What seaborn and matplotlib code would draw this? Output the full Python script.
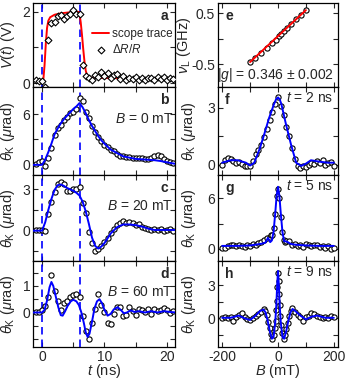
import numpy as np
import matplotlib
matplotlib.use("Agg")
import matplotlib.pyplot as plt
import seaborn as sns

# --- DATA
# panel a : scope trace and dR/R
t_pts = np.arange(-1.0, 21.01, 0.5)
dRR = [0.08, 0.07, 0.06, -0.10, 1.22, 1.68, 1.72, 1.88, 1.92, 1.80, 1.88, 1.95, 2.05, 1.93, 1.95,
       0.50, 0.20, 0.15, 0.10, 0.22, 0.18, 0.30, 0.20, 0.28, 0.15, 0.22, 0.25, 0.12, 0.20, 0.10,
       0.15, 0.12, 0.18, 0.10, 0.14, 0.08, 0.13, 0.15, 0.10, 0.17, 0.12, 0.16, 0.10, 0.14, 0.12]
t_scope = [-1.5, 0.2, 0.4, 0.6, 0.8, 1.0, 1.3, 2.0, 3.0, 4.5, 5.9, 6.0, 6.2, 6.4, 6.6, 6.8,
           7.0, 7.2, 7.5, 8.0, 10.0, 21.5]
v_scope = [0.08, 0.08, 0.5, 1.1, 1.55, 1.75, 1.85, 1.92, 1.96, 1.99, 2.0, 1.95, 1.7, 1.35,
           0.95, 0.6, 0.35, 0.22, 0.17, 0.15, 0.14, 0.14]

# panels b-d : Kerr rotation vs time
kerr_b = [0.1, 0.3, 0.4, -0.1, 0.8, 2.0, 3.5, 4.3, 4.7, 5.3, 5.7, 6.1, 6.3, 6.6, 7.9, 7.5,
          6.3, 5.5, 4.6, 3.9, 3.3, 2.8, 2.4, 2.1, 1.8, 1.6, 1.3, 1.1, 1.0, 0.9, 0.9, 0.8,
          0.8, 0.8, 0.8, 0.7, 0.7, 0.8, 1.0, 1.2, 1.0, 0.7, 0.5, 0.3, 0.2]
kerr_c = [0.05, 0.05, 0.05, 0.0, 1.2, 2.1, 2.8, 3.4, 3.5, 3.4, 2.9, 2.9, 3.0, 3.0, 3.15,
          2.0, 1.3, -0.1, -0.9, -1.45, -1.3, -1.1, -0.8, -0.5, -0.2, 0.15, 0.4, 0.55, 0.7,
          0.55, 0.6, 0.55, 0.4, 0.45, 0.3, 0.2, 0.15, 0.05, 0.1, 0.05, 0.15, 0.0, 0.05, 0.1, 0.0]
kerr_d = [0.0, 0.02, 0.1, 0.25, 0.6, 1.41, 0.8, 0.45, 0.1, 0.35, 0.45, 0.6, 0.65, 0.7, 0.6,
          -0.15, -0.7, -1.0, -0.4, 0.15, 0.7, 0.3, 0.03, -0.4, -0.45, -0.05, 0.22, 0.22, -0.15,
          -0.1, 0.2, 0.05, -0.1, 0.15, 0.1, 0.0, 0.12, -0.05, 0.15, 0.05, 0.1, 0.18, 0.08, -0.02, 0.05]

t_fit_b = [-1.5, 0.0, 0.5, 1.0, 1.5, 2.0, 2.5, 3.0, 3.5, 4.0, 4.5, 5.0, 5.5, 6.0, 6.5, 7.0,
           7.5, 8.0, 8.5, 9.0, 9.5, 10.0, 11.0, 12.0, 13.0, 14.0, 15.0, 16.0, 17.0, 18.0,
           19.0, 20.0, 21.5]
fit_b = [0.0, 0.0, 0.6, 1.5, 2.5, 3.6, 4.3, 4.9, 5.4, 5.8, 6.2, 6.6, 6.9, 7.3, 6.8, 6.1,
         5.3, 4.6, 4.0, 3.4, 2.9, 2.5, 1.8, 1.4, 1.0, 0.85, 0.7, 0.65, 0.6, 0.55, 0.45, 0.3, 0.1]
t_fit_c = [-1.5, 0.0, 0.5, 1.0, 1.5, 2.0, 2.5, 3.0, 3.5, 4.0, 4.5, 5.0, 5.5, 6.0, 6.5, 7.0,
           7.5, 8.0, 8.5, 9.0, 9.5, 10.0, 10.5, 11.0, 12.0, 13.0, 14.0, 15.0, 16.0, 17.0,
           18.0, 19.0, 20.0, 21.5]
fit_c = [0.0, 0.0, 0.6, 1.5, 2.3, 2.95, 3.3, 3.35, 3.25, 3.1, 3.0, 2.9, 2.75, 2.55, 2.1, 1.4,
         0.5, -0.5, -1.1, -1.3, -1.15, -0.9, -0.55, -0.2, 0.25, 0.45, 0.45, 0.4, 0.3, 0.15,
         0.05, 0.05, 0.05, 0.05]
t_fit_d = [-1.5, 0.0, 0.4, 0.8, 1.2, 1.5, 1.8, 2.2, 2.6, 3.0, 3.3, 3.7, 4.1, 4.6, 5.0, 5.5,
           5.9, 6.3, 6.7, 7.0, 7.3, 7.6, 8.0, 8.4, 8.8, 9.2, 9.6, 10.0, 10.5, 11.0, 11.5,
           12.1, 12.6, 13.1, 13.6, 14.2, 14.8, 15.5, 16.5, 17.5, 18.5, 19.5, 20.5, 21.5]
fit_d = [0.0, 0.0, 0.1, 0.45, 0.95, 1.15, 1.0, 0.6, 0.2, -0.1, -0.12, 0.05, 0.25, 0.42, 0.48,
         0.42, 0.28, 0.0, -0.4, -0.75, -0.92, -0.8, -0.35, 0.15, 0.42, 0.5, 0.35, 0.1, -0.12,
         -0.05, 0.12, 0.2, 0.1, -0.03, 0.0, 0.08, 0.02, 0.05, 0.0, 0.05, 0.0, 0.05, 0.02, 0.0]

# panel e : Larmor frequency vs field
B_e = [-100, -83, -62, -40, -20, -8, 2, 12, 22, 32, 48, 66, 84, 100]
nu_e = [-0.45, -0.38, -0.29, -0.19, -0.09, -0.02, 0.05, 0.10, 0.15, 0.20, 0.29, 0.38, 0.47, 0.56]
B_e_fit = [-100, 100]
nu_e_fit = [-0.46, 0.56]

# panels f-h : Kerr rotation vs field
B_f = np.arange(-200, 201, 10)
kerr_f = [0.0, 0.25, 0.35, 0.3, 0.2, 0.1, 0.15, 0.05, -0.05, -0.1, -0.1, 0.2, 0.55, 0.75,
          1.05, 1.45, 1.9, 2.35, 2.8, 3.2, 3.55, 3.1, 2.6, 2.0, 1.5, 0.9, 0.3, -0.05, -0.2,
          -0.1, -0.15, 0.0, 0.1, 0.05, 0.2, 0.1, 0.25, 0.0, 0.1, 0.15, -0.05]
B_f_fit = [-200, -170, -145, -115, -100, -85, -65, -50, -32, -15, -7, 0, 6, 12, 29, 47, 65,
           83, 100, 118, 150, 180, 200]
fit_f = [0.1, 0.23, 0.23, 0.1, -0.05, 0.1, 0.86, 1.57, 2.46, 3.17, 3.45, 3.55, 3.45, 3.2,
         2.1, 1.04, 0.1, -0.07, 0.05, 0.23, 0.15, 0.1, 0.1]

B_g = [-200, -190, -180, -170, -160, -150, -140, -130, -120, -110, -100, -90, -80, -70, -60,
       -50, -40, -30, -25, -20, -15, -10, -5, 0, 5, 10, 15, 20, 25, 30, 40, 50, 60, 70, 80,
       90, 100, 110, 120, 130, 140, 150, 160, 170, 180, 190, 200]
kerr_g = [0.1, 0.05, 0.3, 0.4, 0.5, 0.3, 0.45, 0.3, 0.2, 0.5, 0.35, 0.55, 0.5, 0.7, 0.8,
          1.0, 1.3, 1.4, 1.6, 1.7, 2.5, 4.2, 6.3, 7.1, 6.0, 3.8, 2.0, 1.0, 0.8, 0.9, 0.9,
          0.5, 0.6, 0.3, 0.5, 0.2, 0.6, 0.4, 0.3, 0.5, 0.4, 0.2, 0.3, 0.1, 0.3, 0.0, 0.15]
B_g_fit = [-200, -150, -100, -80, -60, -45, -36, -28, -22, -16, -10, -5, 0, 5, 10, 16, 22,
           28, 35, 45, 60, 80, 100, 150, 200]
fit_g = [0.35, 0.35, 0.4, 0.5, 0.6, 0.75, 1.3, 0.8, 1.0, 2.0, 4.2, 6.3, 7.4, 6.3, 4.2, 2.0,
         0.9, 0.9, 0.8, 0.6, 0.5, 0.45, 0.4, 0.35, 0.35]

B_h = [-200, -190, -180, -170, -160, -150, -140, -130, -120, -110, -100, -90, -80, -70, -60,
       -50, -45, -40, -35, -30, -25, -20, -15, -10, -8, -6, -4, -2, 0, 2, 4, 6, 8, 10, 15,
       20, 25, 30, 35, 40, 45, 50, 60, 70, 80, 90, 100, 110, 120, 130, 140, 150, 160, 170,
       180, 190, 200]
kerr_h = [0.05, 0.1, 0.05, 0.1, -0.2, 0.1, 0.3, 0.45, 0.1, -0.1, -0.15, 0.0, 0.2, 0.35, 0.6,
          0.85, 0.7, 0.3, -0.3, -0.9, -1.45, -1.9, -1.55, -0.9, -0.2, 0.8, 1.6, 2.8, 4.1,
          3.4, 2.2, 1.2, 0.2, -0.6, -1.3, -1.9, -1.5, -1.0, -0.4, 0.2, 0.65, 0.9, 0.6, 0.3,
          0.1, -0.2, 0.1, 0.2, 0.5, 0.35, 0.2, 0.1, 0.0, 0.15, 0.05, 0.2, 0.1]
B_h_fit = [-200, -170, -140, -120, -100, -80, -65, -52, -45, -38, -30, -22, -16, -10, -6,
           -3, 0, 3, 6, 10, 16, 22, 30, 38, 45, 52, 65, 80, 100, 120, 140, 170, 200]
fit_h = [0.05, 0.05, 0.25, 0.0, -0.15, 0.25, 0.65, 0.8, 0.55, -0.1, -1.1, -1.85, -1.7, -0.4,
         1.2, 3.0, 4.3, 3.0, 1.2, -0.4, -1.7, -1.85, -1.1, -0.1, 0.55, 0.85, 0.6, 0.25, -0.1,
         0.15, 0.25, 0.05, 0.05]

B_labels = ['0', '20', '60']
t_labels = ['2', '5', '9']

# --- STYLE
sns.set_style("ticks")
plt.rcParams['font.family'] = ['Liberation Sans', 'DejaVu Sans']
plt.rcParams.update({
    'font.size': 10,
    'mathtext.fontset': 'custom',
    'mathtext.rm': 'Liberation Sans',
    'mathtext.it': 'Liberation Sans:italic',
    'mathtext.bf': 'Liberation Sans:bold',
    'axes.unicode_minus': False,
    'axes.linewidth': 0.9,
    'axes.edgecolor': 'black',
})

BLUE = '#0000ff'
RED = '#ff0000'
fig = plt.figure(figsize=(3.5, 3.81), dpi=100)
H = 381.0
rows = [3, 87, 175, 261, 347]


def make_ax(x0, w, r):
    top, bot = rows[r], rows[r + 1]
    return fig.add_axes([x0 / 350.0, 1 - bot / H, w / 350.0, (bot - top) / H])


def ticks(ax, axis, vals, shown):
    labs = [('%g' % v) if v in shown else '' for v in vals]
    if axis == 'x':
        ax.set_xticks(vals)
        ax.set_xticklabels(labs)
    else:
        ax.set_yticks(vals)
        ax.set_yticklabels(labs)


left = [make_ax(33, 142, r) for r in range(4)]
right = [make_ax(218, 120, r) for r in range(4)]

for ax in left + right:
    ax.tick_params(direction='in', top=True, right=True, length=3.5, width=0.8,
                   labelsize=10, pad=2)

circ = dict(marker='o', s=14, facecolor='white', edgecolor='black', linewidth=0.8)

# panel a
ax = left[0]
sns.lineplot(x=t_scope, y=v_scope, ax=ax, color=RED, lw=1.4, label='scope trace',
             estimator=None, sort=False, zorder=2)
sns.scatterplot(x=t_pts, y=dRR, ax=ax, marker='D', s=12, facecolor='white',
                edgecolor='black', linewidth=0.8, label=r'$\Delta R/R$', zorder=3)
ax.set_ylim(-0.11, 2.25)
ticks(ax, 'y', [0, 1, 2], [0, 2])
ax.set_ylabel(r'$V(t)$ (V)', fontsize=10.5)
ax.legend(loc='upper right', bbox_to_anchor=(1.02, 0.76), frameon=False, fontsize=8.5,
          handlelength=1.4, handletextpad=0.3, labelspacing=0.25, borderaxespad=0)

# panels b-d
kerrs = [kerr_b, kerr_c, kerr_d]
fits = [(t_fit_b, fit_b), (t_fit_c, fit_c), (t_fit_d, fit_d)]
ylims = [(-1.2, 9.2), (-2.2, 4.04), (-1.3, 1.94)]
yt = [([0, 3, 6], [0, 6]), ([-1.5, 0, 1.5, 3], [0, 3]), ([-1, -0.5, 0, 0.5, 1, 1.5], [0, 1])]
for i in range(3):
    ax = left[i + 1]
    sns.scatterplot(x=t_pts, y=kerrs[i], ax=ax, zorder=2, **circ)
    sns.lineplot(x=fits[i][0], y=fits[i][1], ax=ax, color=BLUE, lw=1.4, estimator=None,
                 sort=False, zorder=3)
    ax.set_ylim(*ylims[i])
    ticks(ax, 'y', yt[i][0], yt[i][1])
    ax.set_ylabel(r'$\theta_{\rm K}$ ($\mu$rad)', fontsize=10.5)
    ax.text(0.985, 0.64, r'$B$ = %s mT' % B_labels[i], transform=ax.transAxes,
            ha='right', va='center', fontsize=10)

for i, ax in enumerate(left):
    ax.axvline(0, color=BLUE, lw=1.2, ls=(0, (4.5, 3)), zorder=1)
    ax.axvline(6, color=BLUE, lw=1.2, ls=(0, (4.5, 3)), zorder=1)
    ax.set_xlim(-1.45, 21.3)
    ticks(ax, 'x', [0, 5, 10, 15, 20], [0, 10, 20] if i == 3 else [])
    ax.text(0.955, 0.93, 'abcd'[i], transform=ax.transAxes, ha='right', va='top',
            fontsize=10, fontweight='bold')
    ax.yaxis.set_label_coords(-0.11, 0.5)
left[3].set_xlabel(r'$t$ (ns)', fontsize=10.5, labelpad=-1)

# panel e
ax = right[0]
sns.lineplot(x=B_e_fit, y=nu_e_fit, ax=ax, color=RED, lw=1.4, estimator=None, zorder=3)
sns.scatterplot(x=B_e, y=nu_e, ax=ax, zorder=2, **circ)
ax.set_ylim(-0.95, 0.7)
ticks(ax, 'y', [-0.5, 0, 0.5], [-0.5, 0.5])
ax.set_ylabel(r'$\nu_{\rm L}$ (GHz)', fontsize=10.5)
ax.text(0.97, 0.04, r'$|g|$ = 0.346 $\pm$ 0.002', transform=ax.transAxes, ha='right',
        va='bottom', fontsize=10)

# panels f-h
kerrs = [(B_f, kerr_f), (B_g, kerr_g), (B_h, kerr_h)]
fits = [(B_f_fit, fit_f), (B_g_fit, fit_g), (B_h_fit, fit_h)]
ylims = [(-0.55, 4.1), (-1.45, 8.8), (-2.6, 5.2)]
yt = [([0, 1.5, 3], [0, 3]), ([0, 3, 6], [0, 6]), ([-1.5, 0, 1.5, 3], [0, 3])]
for i in range(3):
    ax = right[i + 1]
    sns.scatterplot(x=kerrs[i][0], y=kerrs[i][1], ax=ax, zorder=2, **circ)
    sns.lineplot(x=fits[i][0], y=fits[i][1], ax=ax, color=BLUE, lw=1.4, estimator=None,
                 sort=False, zorder=3)
    ax.set_ylim(*ylims[i])
    ticks(ax, 'y', yt[i][0], yt[i][1])
    ax.set_ylabel(r'$\theta_{\rm K}$ ($\mu$rad)', fontsize=10.5)
    ax.text(0.96, 0.87, r'$t$ = %s ns' % t_labels[i], transform=ax.transAxes,
            ha='right', va='center', fontsize=10)

for i, ax in enumerate(right):
    ax.set_xlim(-215, 215)
    ticks(ax, 'x', [-200, -100, 0, 100, 200], [-200, 0, 200] if i == 3 else [])
    ax.text(0.06, 0.93, 'efgh'[i], transform=ax.transAxes, ha='left', va='top',
            fontsize=10, fontweight='bold')
    ax.yaxis.set_label_coords(-0.205 if i == 0 else -0.17, 0.5)
right[3].set_xlabel(r'$B$ (mT)', fontsize=10.5, labelpad=-1)

fig.savefig('out.png', dpi=100)
